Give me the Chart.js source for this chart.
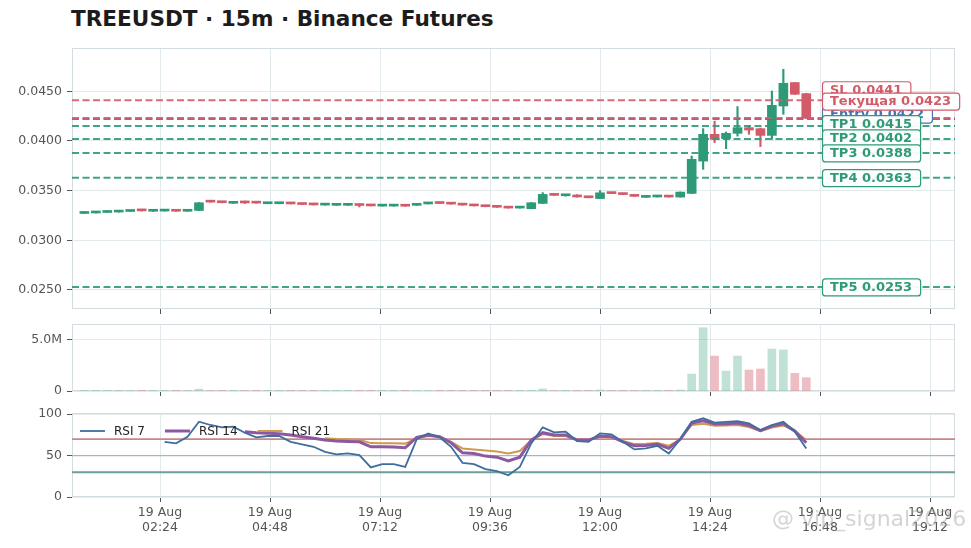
<!DOCTYPE html>
<html>
<head>
<meta charset="utf-8">
<script src="https://cdn.jsdelivr.net/npm/chart.js@4.4.1/dist/chart.umd.min.js"></script>
<style>
  html, body { margin: 0; padding: 0; background: #fff; }
  #wrap { position: relative; width: 971px; height: 548px; overflow: hidden; font-family: "DejaVu Sans", sans-serif; }
  #wrap canvas { position: absolute; left: 0; top: 0; }
  #title { position: absolute; left: 71px; top: 6px; font-size: 21.6px; font-weight: bold; color: #1c1c1c; white-space: nowrap; }
  #mark { position: absolute; left: 772px; top: 506px; font-size: 22px; color: rgba(160,160,160,0.45); white-space: nowrap; }
</style>
</head>
<body>
<div id="wrap">
  <div id="title">TREEUSDT · 15m · Binance Futures</div>
  <canvas id="price" width="971" height="548"></canvas>
  <canvas id="volume" width="971" height="548"></canvas>
  <canvas id="rsi" width="971" height="548"></canvas>
  <div id="mark">@ vip_signal2026</div>
</div>
<script>
// candles: 15m, first one at 00:45 on 19 Aug (minutes after midnight)
const startMin = 45
const stepMin = 15

const open = [0.03270,0.03275,0.03280,0.03284,0.03290,0.03302,0.03292,0.03294,0.03296,0.03292,
  0.03300,0.03390,0.03382,0.03372,0.03384,0.03380,0.03368,0.03368,0.03370,0.03366,
  0.03362,0.03354,0.03352,0.03352,0.03356,0.03352,0.03344,0.03344,0.03346,0.03352,
  0.03366,0.03374,0.03372,0.03364,0.03352,0.03346,0.03338,0.03332,0.03324,0.03318,
  0.03371,0.03458,0.03448,0.03455,0.03436,0.03420,0.03478,0.03468,0.03452,0.03432,
  0.03436,0.03441,0.03435,0.03472,0.03797,0.04067,0.04023,0.04077,0.04134,0.04124,
  0.04056,0.04352,0.04588,0.04477]
const high = [0.03276,0.03283,0.03285,0.03293,0.03299,0.03310,0.03295,0.03305,0.03297,0.03301,
  0.03380,0.03392,0.03383,0.03385,0.03395,0.03381,0.03371,0.03372,0.03371,0.03367,
  0.03363,0.03357,0.03356,0.03356,0.03357,0.03353,0.03348,0.03348,0.03347,0.03361,
  0.03375,0.03375,0.03373,0.03365,0.03353,0.03347,0.03339,0.03333,0.03329,0.03380,
  0.03480,0.03459,0.03456,0.03460,0.03437,0.03500,0.03480,0.03469,0.03453,0.03436,
  0.03442,0.03442,0.03487,0.03848,0.04124,0.04200,0.04090,0.04346,0.04157,0.04130,
  0.04503,0.04722,0.04590,0.04480]
const low = [0.03269,0.03274,0.03279,0.03283,0.03289,0.03294,0.03291,0.03293,0.03291,0.03291,
  0.03299,0.03383,0.03377,0.03371,0.03370,0.03373,0.03367,0.03367,0.03365,0.03359,
  0.03355,0.03353,0.03351,0.03351,0.03335,0.03345,0.03343,0.03343,0.03342,0.03351,
  0.03365,0.03369,0.03363,0.03353,0.03345,0.03337,0.03331,0.03323,0.03323,0.03317,
  0.03370,0.03451,0.03444,0.03434,0.03427,0.03419,0.03469,0.03459,0.03441,0.03431,
  0.03435,0.03434,0.03434,0.03470,0.03714,0.03983,0.03922,0.04049,0.04067,0.03943,
  0.04016,0.04268,0.04468,0.04225]
const close = [0.03275,0.03282,0.03284,0.03292,0.03298,0.03296,0.03294,0.03297,0.03292,0.03300,
  0.03378,0.03384,0.03378,0.03376,0.03376,0.03374,0.03370,0.03371,0.03366,0.03360,
  0.03356,0.03356,0.03355,0.03355,0.03350,0.03346,0.03347,0.03347,0.03343,0.03360,
  0.03374,0.03370,0.03364,0.03354,0.03346,0.03338,0.03332,0.03324,0.03328,0.03378,
  0.03462,0.03452,0.03451,0.03436,0.03428,0.03478,0.03470,0.03460,0.03442,0.03435,
  0.03441,0.03435,0.03485,0.03815,0.04067,0.04016,0.04077,0.04134,0.04110,0.04056,
  0.04359,0.04581,0.04470,0.04230]

// volume in millions
const volM = [0.03,0.02,0.02,0.03,0.04,0.03,0.02,0.03,0.02,0.04,
  0.18,0.04,0.03,0.03,0.04,0.02,0.02,0.03,0.02,0.02,
  0.03,0.02,0.02,0.02,0.03,0.02,0.02,0.02,0.03,0.04,
  0.05,0.03,0.03,0.03,0.02,0.03,0.03,0.04,0.03,0.06,
  0.20,0.05,0.03,0.04,0.03,0.10,0.04,0.03,0.04,0.02,
  0.03,0.03,0.10,1.64,6.12,3.38,1.93,3.38,2.03,2.13,
  4.06,3.97,1.71,1.29]

const rsi7 = [null,null,null,null,null,null,null,
  66.7,64.8,72.8,91.0,87.0,84.2,85.0,
  77.7,72.0,73.7,73.7,66.7,63.5,60.7,
  54.6,51.4,52.6,50.6,35.7,39.7,39.7,36.4,
  69.7,76.9,72.1,60.7,41.3,39.7,33.6,31.2,26.3,36.4,
  64.8,84.2,78.2,78.9,67.6,66.7,76.9,75.7,66.7,57.5,58.7,61.9,52.6,69.7,
  91.0,95.1,89.8,90.7,91.5,89.0,81.0,87.0,91.0,78.9,58.7]
const rsi14 = [null,null,null,null,null,null,null,null,null,null,null,null,null,null,
  78.9,77.5,77.0,76.5,75.0,72.8,70.9,
  68.8,67.6,67.2,66.7,60.7,60.7,60.3,59.5,
  72.0,74.9,72.8,65.5,53.4,52.6,49.4,48.1,43.7,48.1,
  68.8,77.7,74.9,74.9,68.8,68.8,73.7,72.8,66.7,61.9,62.3,63.9,58.7,69.7,
  89.4,92.2,88.2,88.6,89.4,86.5,80.1,85.8,88.6,79.7,65.5]
const rsi21 = [null,null,null,null,null,null,null,null,null,null,null,null,null,null,
  null,null,null,null,null,null,null,
  70.9,70.0,69.7,69.2,65.1,65.0,65.0,64.5,
  70.9,73.7,72.8,66.7,58.7,57.5,56.3,55.0,52.6,55.5,
  68.8,76.1,73.7,73.7,69.7,68.8,72.8,72.0,67.8,63.9,64.3,65.1,61.9,69.7,
  87.0,88.6,86.0,86.5,87.0,84.5,79.5,84.0,86.5,79.7,68.8]

const levelNames = ['SL', 'Текущая', 'Entry', 'TP1', 'TP2', 'TP3', 'TP4', 'TP5']
const levelValues = [0.0441, 0.0423, 0.0422, 0.0415, 0.0402, 0.0388, 0.0363, 0.0253]

const priceTicks = [0.025, 0.030, 0.035, 0.040, 0.045]
const volTicks = [0, 5]
const rsiTicks = [0, 50, 100]
const rsiLevels = [70, 50, 30]
const timeTicks = [144, 288, 432, 576, 720, 864, 1008, 1152]
const timeTickLabels = ['02:24', '04:48', '07:12', '09:36', '12:00', '14:24', '16:48', '19:12']
const tickDate = '19 Aug'

// styling
const green = '#2e9a78'
const red = '#d35b69'
const blue = '#4a72b0'
const gridColor = '#e3eaed'
const frameColor = '#d3dde1'
const tickColor = '#555'
const labelColor = '#555'
const tickFont = { family: 'DejaVu Sans', size: 12.5 }
const levelColors = [red, red, blue, green, green, green, green, green]
const labelShift = [-10.5, -17, -5, -2.5, -1, 0, 0, 0]
const drawOrder = [0, 2, 3, 4, 5, 6, 7, 1]   // current price goes on top

const idx = open.map((_, i) => i)
const xOf = i => startMin + stepMin * i
const up = i => close[i] >= open[i]

function xScale(showLabels) {
  return {
    type: 'linear', min: 28.8, max: 1184.7, offset: false,
    afterBuildTicks: s => { s.ticks = timeTicks.map(v => ({ value: v })) },
    afterFit: s => { s.height = showLabels ? 51 : 6 },
    border: { display: false },
    grid: { color: gridColor, tickColor: tickColor, tickLength: 5, offset: false },
    ticks: {
      display: showLabels, padding: 3, color: labelColor, font: tickFont,
      autoSkip: false, maxRotation: 0,
      callback: v => {
        const k = timeTicks.indexOf(v)
        return k < 0 ? '' : [tickDate, timeTickLabels[k]]
      }
    }
  }
}

function yScale(min, max, ticks, fmt) {
  return {
    min: min, max: max, position: 'left',
    afterBuildTicks: s => { s.ticks = ticks.map(v => ({ value: v })) },
    afterFit: s => { s.width = 72 },
    border: { display: false },
    grid: { color: gridColor, tickColor: tickColor, tickLength: 5 },
    ticks: { padding: 5, color: labelColor, font: tickFont, callback: fmt }
  }
}

const frame = {
  id: 'frame',
  beforeDatasetsDraw(chart) {
    const a = chart.chartArea, ctx = chart.ctx
    ctx.save()
    ctx.strokeStyle = frameColor
    ctx.lineWidth = 1
    ctx.strokeRect(a.left + 0.5, a.top + 0.5, a.right - a.left - 1, a.bottom - a.top - 1)
    ctx.restore()
  }
}

const levels = {
  id: 'levels',
  afterDatasetsDraw(chart) {
    const a = chart.chartArea, ctx = chart.ctx, y = chart.scales.y
    ctx.save()
    ctx.lineWidth = 2
    ctx.setLineDash([7, 3.5])
    ctx.globalAlpha = 0.9
    drawOrder.forEach(k => {
      const py = y.getPixelForValue(levelValues[k])
      ctx.strokeStyle = levelColors[k]
      ctx.beginPath()
      ctx.moveTo(a.left, py)
      ctx.lineTo(a.right, py)
      ctx.stroke()
    })
    ctx.setLineDash([])
    ctx.globalAlpha = 1
    ctx.font = 'bold 13px "DejaVu Sans"'
    ctx.textBaseline = 'middle'
    drawOrder.forEach(k => {
      const text = levelNames[k] + ' ' + levelValues[k].toFixed(4)
      const w = ctx.measureText(text).width + 16
      const cy = y.getPixelForValue(levelValues[k]) + labelShift[k]
      const bx = a.right - 133, by = cy - 8.5
      ctx.beginPath()
      ctx.roundRect(bx + 0.5, by + 0.5, w, 17, 3)
      ctx.fillStyle = 'rgba(255,255,255,0.95)'
      ctx.fill()
      ctx.strokeStyle = levelColors[k]
      ctx.lineWidth = 1.2
      ctx.stroke()
      ctx.fillStyle = levelColors[k]
      ctx.fillText(text, bx + 8, cy + 1)
    })
    ctx.restore()
  }
}

const priceChart = new Chart(document.getElementById('price'), {
  type: 'bar',
  data: {
    datasets: [{
      label: 'wick',
      data: idx.map(i => ({ x: xOf(i), y: [low[i], high[i]] })),
      backgroundColor: c => up(c.dataIndex) ? green : red,
      barThickness: 1.5,
      grouped: false
    }, {
      label: 'body',
      data: idx.map(i => ({ x: xOf(i), y: [open[i], close[i]] })),
      backgroundColor: c => up(c.dataIndex) ? green : red,
      barThickness: 9,
      minBarLength: 2,
      grouped: false
    }]
  },
  options: {
    responsive: false, animation: false,
    layout: { padding: { top: 48, bottom: 233, left: 0, right: 16 } },
    plugins: { legend: { display: false }, tooltip: { enabled: false } },
    scales: {
      x: xScale(false),
      y: yScale(0.02308, 0.04936, priceTicks, v => v.toFixed(4))
    }
  },
  plugins: [frame, levels]
})

const volumeChart = new Chart(document.getElementById('volume'), {
  type: 'bar',
  data: {
    datasets: [{
      label: 'volume',
      data: idx.map(i => ({ x: xOf(i), y: volM[i] })),
      backgroundColor: c => up(c.dataIndex) ? 'rgba(46,154,120,0.3)' : 'rgba(211,91,105,0.4)',
      barThickness: 8
    }]
  },
  options: {
    responsive: false, animation: false,
    layout: { padding: { top: 324, bottom: 151, left: 0, right: 16 } },
    plugins: { legend: { display: false }, tooltip: { enabled: false } },
    scales: {
      x: xScale(false),
      y: yScale(0, 6.48, volTicks, v => v === 0 ? '0' : v.toFixed(1) + 'M')
    }
  },
  plugins: [frame]
})

const rsiRefColors = ['#c98686', '#a7b6bd', '#6f9d98']
const rsiRefWidths = [1.8, 1.2, 2]

const rsiRefs = {
  id: 'rsiRefs',
  beforeDatasetsDraw(chart) {
    const a = chart.chartArea, ctx = chart.ctx, y = chart.scales.y
    ctx.save()
    rsiLevels.forEach((v, k) => {
      const py = y.getPixelForValue(v)
      ctx.strokeStyle = rsiRefColors[k]
      ctx.lineWidth = rsiRefWidths[k]
      ctx.beginPath()
      ctx.moveTo(a.left, py)
      ctx.lineTo(a.right, py)
      ctx.stroke()
    })
    ctx.restore()
  }
}

const rsiLegend = {
  id: 'rsiLegend',
  afterDatasetsDraw(chart) {
    const a = chart.chartArea, ctx = chart.ctx
    let x = a.left + 8
    const y = a.top + 18
    ctx.save()
    ctx.font = '12px "DejaVu Sans"'
    ctx.textBaseline = 'middle'
    chart.data.datasets.forEach(ds => {
      ctx.strokeStyle = ds.borderColor
      ctx.lineWidth = ds.borderWidth
      ctx.beginPath()
      ctx.moveTo(x, y)
      ctx.lineTo(x + 25, y)
      ctx.stroke()
      ctx.fillStyle = '#222'
      ctx.fillText(ds.label, x + 34, y + 1)
      x += 34 + ctx.measureText(ds.label).width + 20
    })
    ctx.restore()
  }
}

const rsiChart = new Chart(document.getElementById('rsi'), {
  type: 'line',
  data: {
    datasets: [{
      label: 'RSI 7',
      data: idx.map(i => ({ x: xOf(i), y: rsi7[i] })),
      borderColor: '#3e6e9c', borderWidth: 1.8
    }, {
      label: 'RSI 14',
      data: idx.map(i => ({ x: xOf(i), y: rsi14[i] })),
      borderColor: '#8c58a2', borderWidth: 3
    }, {
      label: 'RSI 21',
      data: idx.map(i => ({ x: xOf(i), y: rsi21[i] })),
      borderColor: '#cf9a4e', borderWidth: 2
    }]
  },
  options: {
    responsive: false, animation: false,
    elements: { point: { radius: 0 }, line: { tension: 0 } },
    layout: { padding: { top: 413, bottom: 0, left: 0, right: 16 } },
    plugins: { legend: { display: false }, tooltip: { enabled: false } },
    scales: {
      x: xScale(true),
      y: yScale(0, 101.5, rsiTicks, v => String(v))
    }
  },
  plugins: [frame, rsiRefs, rsiLegend]
})
</script>
</body>
</html>
